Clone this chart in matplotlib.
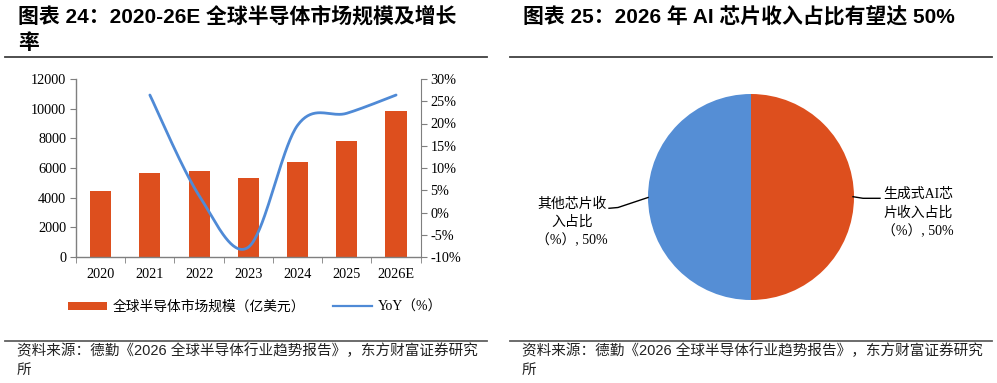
import numpy as np
import matplotlib
matplotlib.use("Agg")
import matplotlib.pyplot as plt
from matplotlib.patches import Patch
from matplotlib.lines import Line2D

# ---------------- data ----------------
years = ["2020", "2021", "2022", "2023", "2024", "2025", "2026E"]
market_size = [4470, 5640, 5800, 5350, 6380, 7800, 9820]  # 亿美元
yoy_years = ["2021", "2022", "2023", "2024", "2025", "2026E"]
yoy_pct = [26.4, 3.8, -7.8, 19.6, 22.3, 26.4]  # %

pie_labels = ["生成式AI芯\n片收入占比\n（%）, 50%", "其他芯片收\n入占比\n（%）, 50%"]
pie_values = [50, 50]

left_yticks = [0, 2000, 4000, 6000, 8000, 10000, 12000]
right_yticks = [-10, -5, 0, 5, 10, 15, 20, 25, 30]

title_left_1 = "图表 24：2020-26E 全球半导体市场规模及增长"
title_left_2 = "率"
title_right = "图表 25：2026 年 AI 芯片收入占比有望达 50%"
source_text = "资料来源：德勤《2026 全球半导体行业趋势报告》，东方财富证券研究\n所"
legend_bar = "全球半导体市场规模（亿美元）"
legend_line = "YoY（%）"

BAR_C = "#DD4F1E"
LINE_C = "#4F8AD6"
BLUE_PIE = "#558ED5"
AXIS_C = "#7F7F7F"

SERIF = ["Liberation Serif", "Noto Sans CJK SC"]
SANS = ["Liberation Sans", "Noto Sans CJK SC"]

W, H = 997, 383
fig = plt.figure(figsize=(W / 100, H / 100), dpi=100)


def fx(px):
    return px / W


def fy(py):
    return 1 - py / H


def smooth_curve(xs, ys, n=40):
    """Excel-like Bezier smoothing through the given points."""
    xs = np.asarray(xs, float)
    ys = np.asarray(ys, float)
    pts = np.column_stack([xs, ys])
    out = []
    m = len(pts)
    for i in range(m - 1):
        p0 = pts[i]
        p3 = pts[i + 1]
        pm = pts[i - 1] if i > 0 else pts[i]
        pp = pts[i + 2] if i + 2 < m else pts[i + 1]
        p1 = p0 + (p3 - pm) / 6.0
        p2 = p3 - (pp - p0) / 6.0
        t = np.linspace(0, 1, n)[:, None]
        seg = ((1 - t) ** 3) * p0 + 3 * ((1 - t) ** 2) * t * p1 + 3 * (1 - t) * t ** 2 * p2 + t ** 3 * p3
        out.append(seg if i == 0 else seg[1:])
    out = np.vstack(out)
    return out[:, 0], out[:, 1]


# ---------------- titles / rules / sources ----------------
fig.text(fx(18), fy(16), title_left_1, family=SANS, weight="bold", fontsize=15.0,
         ha="left", va="center")
fig.text(fx(18), fy(43), title_left_2, family=SANS, weight="bold", fontsize=15.0,
         ha="left", va="center")
fig.text(fx(523), fy(16), title_right, family=SANS, weight="bold", fontsize=15.0,
         ha="left", va="center")

for x0, x1 in [(5, 487), (510, 992)]:
    fig.add_artist(Line2D([fx(x0), fx(x1)], [fy(56.5), fy(56.5)], color="#404040", lw=1.3))
    fig.add_artist(Line2D([fx(x0), fx(x1)], [fy(341), fy(341)], color="#606060", lw=1.3))

for sx0 in (17, 522):
    fig.text(fx(sx0), fy(351), source_text.split("\n")[0], family=SANS, fontsize=10.5,
             ha="left", va="center", color="#222222")
    fig.text(fx(sx0), fy(370), source_text.split("\n")[1], family=SANS, fontsize=10.5,
             ha="left", va="center", color="#222222")

# ---------------- left chart ----------------
ax = fig.add_axes([fx(76), fy(257), fx(420.7) - fx(76), fy(79) - fy(257)])
x = np.arange(len(years))
ax.bar(x, market_size, width=0.43, color=BAR_C, zorder=2)
ax.set_xlim(-0.5, len(years) - 0.5)
ax.set_ylim(0, 12000)
ax.set_yticks(left_yticks)
ax.set_yticklabels([str(v) for v in left_yticks], family=SERIF, fontsize=10.3)
ax.set_xticks(x)
ax.set_xticklabels(years, family=SERIF, fontsize=10.3)
ax.set_xticks(np.arange(-0.5, len(years), 1.0), minor=True)
ax.tick_params(axis="x", which="major", length=0, pad=8)
ax.tick_params(axis="x", which="minor", length=4, color=AXIS_C, direction="out")
ax.tick_params(axis="y", length=4, color=AXIS_C, direction="out", pad=3)
for s in ["top", "right"]:
    ax.spines[s].set_visible(False)
for s in ["left", "bottom"]:
    ax.spines[s].set_color(AXIS_C)
    ax.spines[s].set_linewidth(1.0)

ax2 = ax.twinx()
ax2.set_ylim(-10, 30)
ax2.set_yticks(right_yticks)
ax2.set_yticklabels([f"{v}%" for v in right_yticks], family=SERIF, fontsize=10.3)
ax2.tick_params(axis="y", length=4, color=AXIS_C, direction="out", pad=3)
for s in ["top", "left", "bottom"]:
    ax2.spines[s].set_visible(False)
ax2.spines["right"].set_color(AXIS_C)
yoy_x = [years.index(y) for y in yoy_years]
sx, sy = smooth_curve(yoy_x, yoy_pct)
ax2.plot(sx, sy, color=LINE_C, lw=2.0, solid_capstyle="round", zorder=3)

handles = [Patch(facecolor=BAR_C, edgecolor="none"),
           Line2D([0], [0], color=LINE_C, lw=1.6)]
leg = fig.legend(handles, [legend_bar, legend_line], loc="center left",
                 bbox_to_anchor=(fx(56), fy(307)), ncol=2, frameon=False,
                 prop={"family": SERIF, "size": 9.9}, handlelength=2.8,
                 handleheight=0.6, handletextpad=0.45, columnspacing=2.0)

# ---------------- right chart (pie) ----------------
cx, cy, r = 751, 197, 103
pax = fig.add_axes([fx(cx - r), fy(cy + r), fx(2 * r), fy(cy - r) - fy(cy + r)])
pax.pie(pie_values, colors=[BAR_C, BLUE_PIE], startangle=90, counterclock=False,
        radius=1.0, wedgeprops={"linewidth": 0})
pax.set_xlim(-1, 1)
pax.set_ylim(-1, 1)
pax.set_aspect("auto")
pax.axis("off")


def px2d(px, py):
    return (px - cx) / r, (cy - py) / r


# leader lines
for pts in [[(853, 196.7), (863, 198.3), (880, 198.3)],
            [(648, 197.5), (618, 207.5), (609, 208.3)]]:
    d = [px2d(*p) for p in pts]
    pax.plot([p[0] for p in d], [p[1] for p in d], color="#000000", lw=1.0, clip_on=False)

tx, ty = px2d(918, 213)
pax.text(tx, ty, pie_labels[0], family=SERIF, fontsize=10.0, ha="center", va="center",
         linespacing=1.45)
tx, ty = px2d(572, 222)
pax.text(tx, ty, pie_labels[1], family=SERIF, fontsize=10.0, ha="center", va="center",
         linespacing=1.45)

fig.savefig("out.png", dpi=100)
